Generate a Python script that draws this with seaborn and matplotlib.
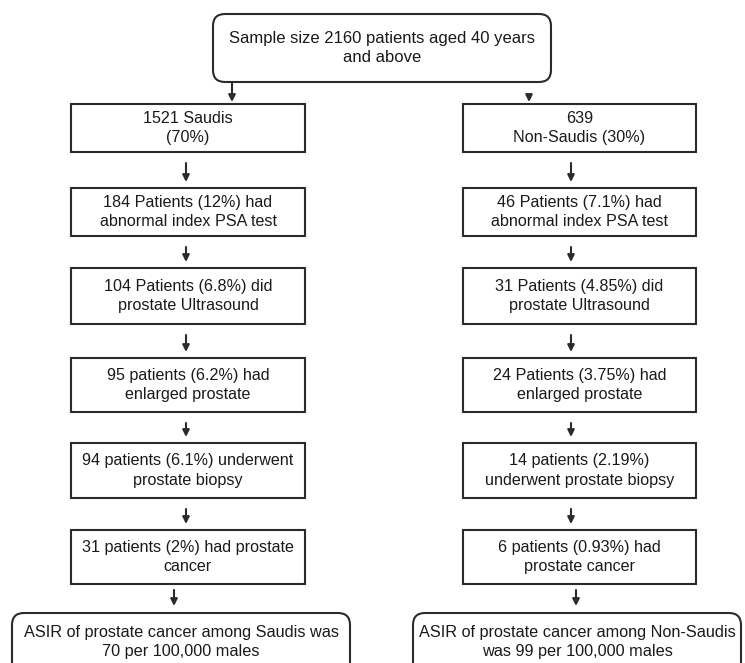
import matplotlib
matplotlib.use("Agg")
import matplotlib.pyplot as plt
import seaborn as sns
from matplotlib.patches import FancyBboxPatch, FancyArrowPatch

sns.set_theme(style="white")
plt.rcParams['font.family'] = ['Liberation Sans', 'DejaVu Sans']

# text of the flowchart
top_text = "Sample size 2160 patients aged 40 years\nand above"
saudi_steps = [
    "1521 Saudis\n(70%)",
    "184 Patients (12%) had\nabnormal index PSA test",
    "104 Patients (6.8%) did\nprostate Ultrasound",
    "95 patients (6.2%) had\nenlarged prostate",
    "94 patients (6.1%) underwent\nprostate biopsy",
    "31 patients (2%) had prostate\ncancer",
]
non_saudi_steps = [
    "639\nNon-Saudis (30%)",
    "46 Patients (7.1%) had\nabnormal index PSA test",
    "31 Patients (4.85%) did\nprostate Ultrasound",
    "24 Patients (3.75%) had\nenlarged prostate",
    "14 patients (2.19%)\nunderwent prostate biopsy",
    "6 patients (0.93%) had\nprostate cancer",
]
saudi_result = "ASIR of prostate cancer among Saudis was\n70 per 100,000 males"
non_saudi_result = "ASIR of prostate cancer among Non-Saudis\nwas 99 per 100,000 males"

# layout (pixels, origin top-left)
box_tops = [104, 188, 268, 358, 443, 530]
box_bottoms = [152, 236, 324, 412, 498, 584]
left_x = (71, 305)
right_x = (463, 696)
line_col = "#2b2b2b"
fs = 11.6

fig = plt.figure(figsize=(7.45, 6.63), dpi=100)
ax = fig.add_axes([0, 0, 1, 1])
ax.set_xlim(0, 745)
ax.set_ylim(663, 0)
ax.axis("off")


def box(x0, x1, y0, y1, text, rounded=False, size=fs, ty=None, ls=1.4):
    style = "round,pad=0,rounding_size=12" if rounded else "square,pad=0"
    p = FancyBboxPatch((x0, y0), x1 - x0, y1 - y0, boxstyle=style,
                       facecolor="white", edgecolor=line_col, linewidth=1.5)
    ax.add_patch(p)
    if ty is None:
        ty = (y0 + y1) / 2
    ax.text((x0 + x1) / 2, ty, text, ha="center", va="center",
            fontsize=size, color="#1a1a1a", linespacing=ls)


def arrow(x, y0, y1):
    a = FancyArrowPatch((x, y0), (x, y1), arrowstyle="-|>", mutation_scale=10,
                        color=line_col, linewidth=1.5, shrinkA=0, shrinkB=0)
    ax.add_patch(a)


box(213, 551, 14, 82, top_text, rounded=True, size=12)
arrow(232, 83, 102)
arrow(529, 96, 102)

for i, (s, n) in enumerate(zip(saudi_steps, non_saudi_steps)):
    box(left_x[0], left_x[1], box_tops[i], box_bottoms[i], s)
    box(right_x[0], right_x[1], box_tops[i], box_bottoms[i], n)
    if i < len(saudi_steps) - 1:
        arrow(186, box_bottoms[i] + 11, box_tops[i + 1] - 6)
        arrow(571, box_bottoms[i] + 11, box_tops[i + 1] - 6)

# result boxes are cut off by the lower edge of the picture
arrow(174, 590, 606)
arrow(576, 590, 606)
box(12, 350, 613, 680, saudi_result, rounded=True, size=11.7, ty=642, ls=1.3)
box(413, 741, 613, 680, non_saudi_result, rounded=True, size=11.7, ty=642, ls=1.3)

fig.savefig("out.png", dpi=100)
